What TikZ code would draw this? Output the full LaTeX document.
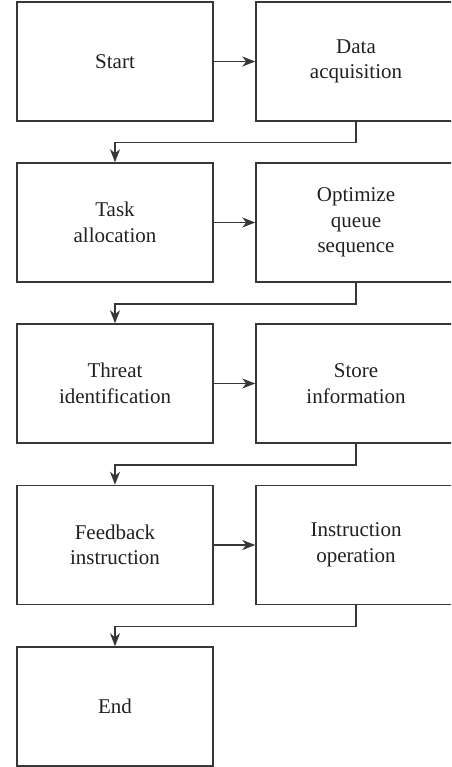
\documentclass[tikz,border=0pt]{standalone}
\usepackage{fontspec}
\setmainfont{Liberation Serif}
\usetikzlibrary{arrows.meta, positioning}
\definecolor{boxgray}{RGB}{55, 55, 55}
\definecolor{textblack}{RGB}{35, 31, 32}

\begin{document}
\begin{tikzpicture}[x=1pt, y=-1pt,
  box/.style={draw=boxgray, line width=1.5pt, minimum height=119pt, inner sep=0pt, align=center, text=textblack, font=\fontsize{21}{25.5}\selectfont},
  leftbox/.style={box, minimum width=196pt},
  rightbox/.style={box, minimum width=200pt},
  flow/.style={draw=boxgray, line width=1.5pt, -{Stealth[length=13pt, width=10pt, inset=4pt]}}]
  \useasboundingbox (0, 0) rectangle (451, 767);
  \clip (0, 0) rectangle (451, 767);

  % Row 1
  \node[leftbox] (start) at (115, 61.5) {Start};
  \node[rightbox] (acq) at (356, 61.5) {Data\\acquisition};
  \draw[flow] (start) -- (acq);

  % Row 2
  \node[leftbox] (task) at (115, 222.5) {Task\\allocation};
  \node[rightbox] (queue) at (356, 222.5) {Optimize\\queue\\sequence};
  \draw[flow] (acq.south) -- ++(0, 21) -| (task.north);
  \draw[flow] (task) -- (queue);

  % Row 3
  \node[leftbox] (threat) at (115, 383.5) {Threat\\identification};
  \node[rightbox] (store) at (356, 383.5) {Store\\information};
  \draw[flow] (queue.south) -- ++(0, 21) -| (threat.north);
  \draw[flow] (threat) -- (store);

  % Row 4
  \node[leftbox] (feedback) at (115, 545) {Feedback\\instruction};
  \node[rightbox] (oper) at (356, 545) {Instruction\\operation};
  \draw[flow] (store.south) -- ++(0, 21) -| (feedback.north);
  \draw[flow] (feedback) -- (oper);

  % End
  \node[leftbox] (end) at (115, 706.5) {End};
  \draw[flow] (oper.south) -- ++(0, 21) -| (end.north);
\end{tikzpicture}
\end{document}
